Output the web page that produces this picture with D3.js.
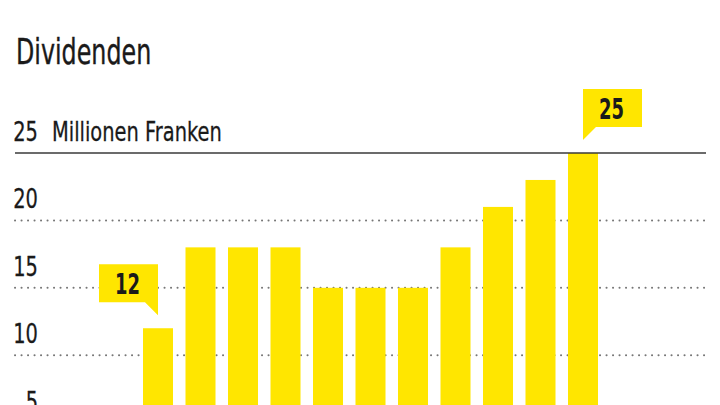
<!DOCTYPE html>
<html><head><meta charset="utf-8">
<script src="https://cdn.jsdelivr.net/npm/d3@7"></script>
<style>
html,body{margin:0;padding:0;background:#fff;}
svg{display:block;}
text{font-family:"DejaVu Sans",sans-serif;fill:#1a1a1a;}
</style></head>
<body>
<svg id="c" width="720" height="405"></svg>
<script>
// Data
const categories = ["1","2","3","4","5","6","7","8","9","10","11"];
const values = [12, 18, 18, 18, 15, 15, 15, 18, 21, 23, 25];
const gridTicks = [5, 10, 15, 20];
const topTick = 25;
const title = "Dividenden";
const unitLabel = "Millionen Franken";
const highlighted = [{index: 0, side: "left"}, {index: 10, side: "right"}];

const svg = d3.select("#c");
const y = d3.scaleLinear().domain([0, 25]).range([490, 153]);
const x = d3.scaleBand().domain(categories).range([143, 598]).paddingInner(0.294).paddingOuter(0);
const left = 15, right = 706, labelRight = 38;
const yellow = "#FFE600";

function squeezed(px, py, k) {
  return svg.append("text").attr("transform", `translate(${px},${py}) scale(${k},1)`);
}

squeezed(16, 64, 0.68).attr("font-size", 35).attr("stroke", "#1a1a1a").attr("stroke-width", 0.4).text(title);

// dotted grid
svg.selectAll("line.grid").data(gridTicks).join("line")
  .attr("class","grid")
  .attr("x1", left).attr("x2", right)
  .attr("y1", d => y(d)).attr("y2", d => y(d))
  .attr("stroke", "#777").attr("stroke-width", 2)
  .attr("stroke-linecap","round")
  .attr("stroke-dasharray", "0.1,6.4");

gridTicks.concat([topTick]).forEach(d => {
  squeezed(labelRight, y(d) - 12, 0.72).attr("text-anchor","end").attr("font-size", 27)
    .attr("stroke", "#1a1a1a").attr("stroke-width", 0.3).text(d);
});

squeezed(52, y(topTick) - 12, 0.72).attr("font-size", 27)
  .attr("stroke", "#1a1a1a").attr("stroke-width", 0.3).text(unitLabel);

// bars
svg.selectAll("rect.bar").data(values).join("rect")
  .attr("class","bar")
  .attr("x", (d,i) => x(categories[i]))
  .attr("width", x.bandwidth())
  .attr("y", d => y(d))
  .attr("height", d => y(0) - y(d))
  .attr("fill", yellow);

// top solid line
svg.append("line")
  .attr("x1", left).attr("x2", right)
  .attr("y1", y(topTick)).attr("y2", y(topTick))
  .attr("stroke", "#3a3a3a").attr("stroke-width", 1.4);

// callouts
const bw = 59, bh = 38, gap = 13, ptr = 13;
highlighted.forEach(h => {
  const v = values[h.index];
  const cx = x(categories[h.index]) + x.bandwidth()/2;
  const tipY = y(v) - gap;
  const bottom = tipY - ptr;
  let x0, pts;
  if (h.side === "left") {
    x0 = cx - bw;
    pts = [[x0,bottom-bh],[cx,bottom-bh],[cx,tipY],[cx-ptr,bottom],[x0,bottom]];
  } else {
    x0 = cx;
    pts = [[x0,bottom-bh],[x0+bw,bottom-bh],[x0+bw,bottom],[x0+ptr,bottom],[x0,tipY]];
  }
  svg.append("path").attr("d", d3.line()(pts) + "Z").attr("fill", yellow);
  squeezed(x0 + bw/2 - 1, bottom - 8, 0.62)
    .attr("text-anchor","middle").attr("font-size", 29).attr("font-weight","bold")
    .text(v);
});
</script>
</body></html>
